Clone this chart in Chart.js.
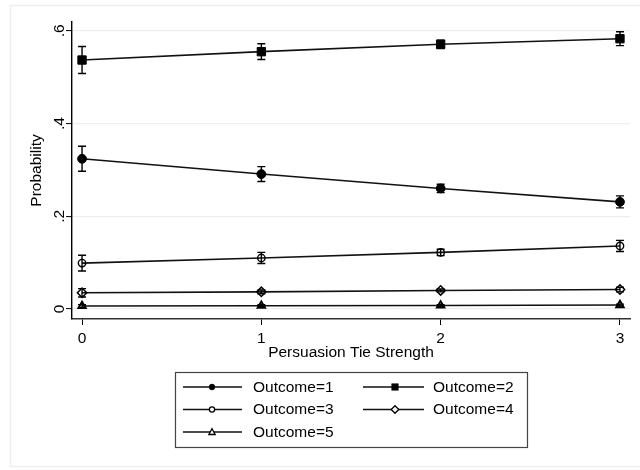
<!DOCTYPE html>
<html>
<head>
<meta charset="utf-8">
<script src="https://cdn.jsdelivr.net/npm/chart.js@4/dist/chart.umd.min.js"></script>
<style>
  html, body { margin: 0; padding: 0; background: #fff; }
  #wrap { width: 640px; height: 470px; position: relative; }
</style>
</head>
<body>
<div id="wrap"><canvas id="c" width="640" height="470"></canvas></div>
<script>
// Predicted probabilities by persuasion tie strength, with 95% CI half-widths
const tieStrength = [0, 1, 2, 3];
const outcomeLabels = ['Outcome=1', 'Outcome=2', 'Outcome=3', 'Outcome=4', 'Outcome=5'];

const prob1 = [0.324, 0.291, 0.260, 0.231];
const ci1   = [0.027, 0.016, 0.009, 0.013];
const prob2 = [0.537, 0.555, 0.571, 0.583];
const ci2   = [0.029, 0.017, 0.009, 0.015];
const prob3 = [0.099, 0.110, 0.122, 0.136];
const ci3   = [0.017, 0.012, 0.007, 0.012];
const prob4 = [0.035, 0.037, 0.040, 0.042];
const ci4   = [0.009, 0.004, 0.003, 0.005];
const prob5 = [0.0065, 0.007, 0.0075, 0.0085];
const ci5   = [0.003, 0.002, 0.002, 0.002];

const xTickValues = [0, 1, 2, 3];
const yTickValues = [0, 0.2, 0.4, 0.6];
const yTickLabels = ['0', '.2', '.4', '.6'];

const FONT = "'Liberation Sans', Arial, Helvetica, sans-serif";
const TXT = 15.5;
Chart.defaults.font.family = FONT;
Chart.defaults.font.size = TXT;
Chart.defaults.color = '#000';

const probs = [prob1, prob2, prob3, prob4, prob5];
const cis = [ci1, ci2, ci3, ci4, ci5];

// marker appearance per outcome
const markers = [
  { style: 'circle',   radius: 4.4, fill: '#000', bw: 1,   lr: 2.9 },
  { style: 'rect',     radius: 5.9, fill: '#000', bw: 1,   lr: 3.3 },
  { style: 'circle',   radius: 3.7, fill: 'rgba(0,0,0,0)', bw: 1.4, lr: 2.6 },
  { style: 'rectRot',  radius: 4.7, fill: 'rgba(0,0,0,0)', bw: 1.5, lr: 3.8 },
  { style: 'triangle', radius: 4.3, fill: 'rgba(0,0,0,0)', bw: 1.9, lr: 3.3 }
];

const datasets = probs.map((p, i) => ({
  label: outcomeLabels[i],
  data: tieStrength.map((x, j) => ({ x: x, y: p[j] })),
  ci: cis[i],
  borderColor: '#111',
  borderWidth: 1.6,
  tension: 0,
  fill: false,
  pointStyle: markers[i].style,
  pointRadius: markers[i].radius,
  pointHoverRadius: markers[i].radius,
  pointBackgroundColor: markers[i].fill,
  pointBorderColor: '#000',
  pointBorderWidth: markers[i].bw
}));

// light frame around the whole graph region
const framePlugin = {
  id: 'frame',
  beforeDraw(chart) {
    const ctx = chart.ctx;
    ctx.save();
    ctx.fillStyle = '#fff';
    ctx.fillRect(0, 0, chart.width, chart.height);
    ctx.strokeStyle = '#e9f0f2';
    ctx.lineWidth = 1.5;
    ctx.strokeRect(10.5, 5.5, chart.width + 20, 461);
    ctx.restore();
  }
};

// capped confidence intervals
const errorBarPlugin = {
  id: 'errorBars',
  afterDatasetsDraw(chart) {
    const ctx = chart.ctx;
    const xs = chart.scales.x, ys = chart.scales.y;
    ctx.save();
    ctx.strokeStyle = '#000';
    ctx.lineWidth = 1.4;
    chart.data.datasets.forEach(ds => {
      ds.data.forEach((pt, j) => {
        const px = xs.getPixelForValue(pt.x);
        const lo = ys.getPixelForValue(pt.y - ds.ci[j]);
        const hi = ys.getPixelForValue(pt.y + ds.ci[j]);
        ctx.beginPath();
        ctx.moveTo(px, lo); ctx.lineTo(px, hi);
        ctx.moveTo(px - 4, lo); ctx.lineTo(px + 4, lo);
        ctx.moveTo(px - 4, hi); ctx.lineTo(px + 4, hi);
        ctx.stroke();
      });
    });
    ctx.restore();
  }
};

// vertical y tick labels
const yLabelPlugin = {
  id: 'yLabels',
  afterDraw(chart) {
    const ctx = chart.ctx;
    const ys = chart.scales.y;
    ctx.save();
    ctx.fillStyle = '#000';
    ctx.font = TXT + 'px ' + FONT;
    ctx.textAlign = 'center';
    ctx.textBaseline = 'middle';
    yTickValues.forEach((v, i) => {
      const py = ys.getPixelForValue(v);
      ctx.save();
      ctx.translate(60, py);
      ctx.rotate(-Math.PI / 2);
      ctx.fillText(yTickLabels[i], 0, 0);
      ctx.restore();
    });
    ctx.restore();
  }
};

function drawMarker(ctx, style, x, y, r, fill, bw) {
  ctx.beginPath();
  if (style === 'circle') {
    ctx.arc(x, y, r, 0, Math.PI * 2);
  } else if (style === 'rect') {
    ctx.rect(x - r, y - r, 2 * r, 2 * r);
  } else if (style === 'rectRot') {
    ctx.moveTo(x, y - r); ctx.lineTo(x + r, y); ctx.lineTo(x, y + r); ctx.lineTo(x - r, y);
    ctx.closePath();
  } else if (style === 'triangle') {
    ctx.moveTo(x, y - r); ctx.lineTo(x + r * 0.95, y + r * 0.75); ctx.lineTo(x - r * 0.95, y + r * 0.75);
    ctx.closePath();
  }
  ctx.fillStyle = fill;
  ctx.fill();
  ctx.lineWidth = bw;
  ctx.strokeStyle = '#000';
  ctx.stroke();
}

// boxed two-column legend below the plot
const legendPlugin = {
  id: 'boxLegend',
  afterDraw(chart) {
    const ctx = chart.ctx;
    ctx.save();
    ctx.strokeStyle = '#444';
    ctx.lineWidth = 1.2;
    ctx.strokeRect(175.5, 372.5, 352, 75);
    const cols = [{ l0: 183, l1: 242, m: 212, t: 253 }, { l0: 363, l1: 424, m: 395, t: 433 }];
    const rows = [387, 409.5, 432];
    ctx.font = TXT + 'px ' + FONT;
    ctx.textBaseline = 'middle';
    ctx.textAlign = 'left';
    outcomeLabels.forEach((lab, i) => {
      const c = cols[i % 2], y = rows[Math.floor(i / 2)];
      ctx.strokeStyle = '#111';
      ctx.lineWidth = 1.5;
      ctx.beginPath();
      ctx.moveTo(c.l0, y); ctx.lineTo(c.l1, y);
      ctx.stroke();
      const mk = markers[i];
      const fill = mk.fill === '#000' ? '#000' : '#fff';
      drawMarker(ctx, mk.style, c.m, y, mk.lr, fill, mk.fill === '#000' ? 0.5 : 1.3);
      ctx.fillStyle = '#000';
      ctx.fillText(lab, c.t, y + 0.5);
    });
    ctx.restore();
  }
};

new Chart(document.getElementById('c'), {
  type: 'line',
  data: { datasets: datasets },
  options: {
    responsive: false,
    devicePixelRatio: 1,
    animation: false,
    events: [],
    layout: { padding: { left: 10, right: 10, top: 22, bottom: 106 } },
    plugins: { legend: { display: false }, tooltip: { enabled: false } },
    scales: {
      x: {
        type: 'linear',
        min: -0.056,
        max: 3.056,
        afterBuildTicks(scale) { scale.ticks = xTickValues.map(v => ({ value: v })); },
        afterFit(scale) { scale.height = 45; },
        ticks: { color: '#000', padding: 4, maxRotation: 0, font: { size: TXT }, callback: v => String(v) },
        grid: { drawOnChartArea: false, drawTicks: true, tickLength: 6, tickColor: '#000', tickWidth: 1 },
        border: { display: true, color: '#333', width: 1.4 },
        title: { display: true, text: 'Persuasion Tie Strength', color: '#000', font: { size: TXT }, padding: { top: 0, bottom: 1.7 } }
      },
      y: {
        type: 'linear',
        min: -0.0216,
        max: 0.619,
        afterBuildTicks(scale) { scale.ticks = yTickValues.map(v => ({ value: v })); },
        afterFit(scale) { scale.width = 62; },
        ticks: { display: false },
        grid: { color: '#e8f0f1', lineWidth: 1.2, drawTicks: true, tickLength: 6, tickColor: '#000', tickWidth: 1 },
        border: { display: true, color: '#000', width: 1.4 },
        title: { display: true, text: 'Probability', color: '#000', font: { size: TXT }, padding: { top: 17.7, bottom: 0 } }
      }
    }
  },
  plugins: [framePlugin, errorBarPlugin, yLabelPlugin, legendPlugin]
});
</script>
</body>
</html>
